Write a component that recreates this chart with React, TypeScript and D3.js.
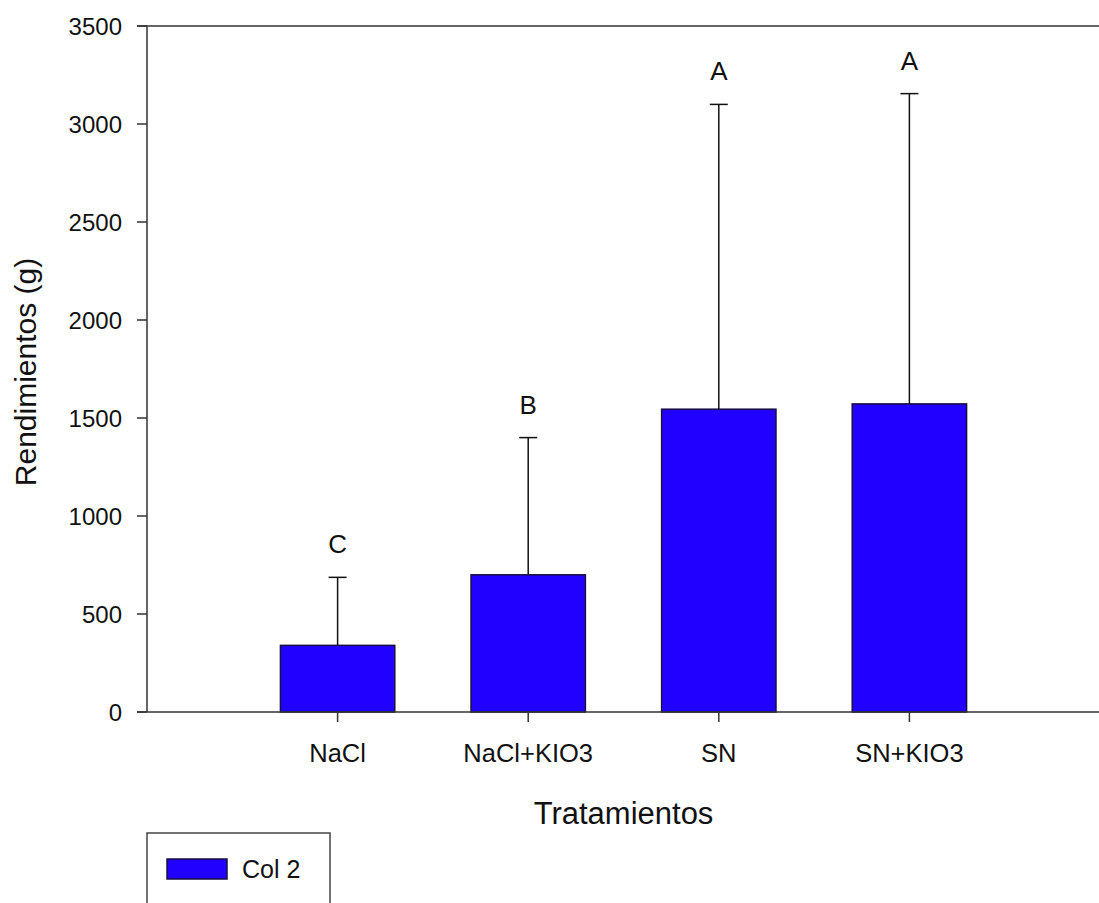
import React from "react";
import * as d3 from "d3";

const categories = ["NaCl", "NaCl+KIO3", "SN", "SN+KIO3"];
const means = [340, 700, 1545, 1572];
const errors = [347, 700, 1555, 1583];
const letters = ["C", "B", "A", "A"];
const yTicks = [0, 500, 1000, 1500, 2000, 2500, 3000, 3500];
const legendLabel = "Col 2";

const W = 1099;
const H = 903;
const left = 147;
const right = 1100;
const top = 26;
const bottom = 712;
const FONT = "Arial, 'Liberation Sans', sans-serif";
const BAR = "#2200ff";
const AXIS = "#333";

export default function App() {
  const x = d3.scaleLinear().domain([0, categories.length + 1]).range([left, right]);
  const y = d3.scaleLinear().domain([0, 3500]).range([bottom, top]);
  const barW = x(0.6) - x(0);
  const capW = 18;

  return (
    <svg
      width={W}
      height={H}
      style={{ position: "absolute", left: 0, top: 0, background: "#fff" }}
      fontFamily={FONT}
    >
      {/* bars */}
      {categories.map((c, i) => {
        const cx = x(i + 1);
        return (
          <rect
            key={c}
            x={cx - barW / 2}
            y={y(means[i])}
            width={barW}
            height={y(0) - y(means[i])}
            fill={BAR}
            stroke="#1a1040"
            strokeWidth={1.5}
          />
        );
      })}
      {/* upper error bars */}
      {categories.map((c, i) => {
        const cx = x(i + 1);
        const yt = y(means[i] + errors[i]);
        return (
          <g key={"e" + c} stroke="#111" strokeWidth={1.5}>
            <line x1={cx} x2={cx} y1={y(means[i])} y2={yt} />
            <line x1={cx - capW / 2} x2={cx + capW / 2} y1={yt} y2={yt} />
          </g>
        );
      })}
      {/* significance letters */}
      {categories.map((c, i) => (
        <text
          key={"l" + c}
          x={x(i + 1)}
          y={y(means[i] + errors[i]) - 24}
          textAnchor="middle"
          fontSize={26}
          fill="#111"
        >
          {letters[i]}
        </text>
      ))}
      {/* frame */}
      <line x1={left} x2={left} y1={top} y2={bottom} stroke={AXIS} strokeWidth={1.5} />
      <line x1={left - 10} x2={W} y1={top} y2={top} stroke={AXIS} strokeWidth={1.5} />
      <line x1={left - 10} x2={W} y1={bottom} y2={bottom} stroke={AXIS} strokeWidth={1.5} />
      {/* y ticks */}
      {yTicks.map((t) => (
        <g key={"t" + t}>
          <line x1={left - 10} x2={left} y1={y(t)} y2={y(t)} stroke={AXIS} strokeWidth={1.5} />
          <text
            x={left - 25}
            y={y(t)}
            dy="0.36em"
            textAnchor="end"
            fontSize={24}
            fill="#111"
          >
            {t}
          </text>
        </g>
      ))}
      {/* x ticks and labels */}
      {categories.map((c, i) => (
        <g key={"x" + c}>
          <line x1={x(i + 1)} x2={x(i + 1)} y1={bottom} y2={bottom + 10} stroke={AXIS} strokeWidth={1.5} />
          <text x={x(i + 1)} y={762} textAnchor="middle" fontSize={25.5} fill="#111">
            {c}
          </text>
        </g>
      ))}
      {/* axis titles */}
      <text
        x={(left + right) / 2}
        y={824}
        textAnchor="middle"
        fontSize={31}
        fill="#111"
      >
        Tratamientos
      </text>
      <text
        transform={`translate(36, ${(top + bottom) / 2 + 3}) rotate(-90)`}
        textAnchor="middle"
        fontSize={30}
        fill="#111"
      >
        Rendimientos (g)
      </text>
      {/* legend */}
      <rect x={147} y={833} width={183} height={90} fill="#fff" stroke="#444" strokeWidth={1.5} />
      <rect x={167} y={859} width={60} height={20} fill={BAR} stroke="#1a1040" strokeWidth={1.5} />
      <text x={242} y={878} fontSize={25} fill="#111">
        {legendLabel}
      </text>
    </svg>
  );
}
